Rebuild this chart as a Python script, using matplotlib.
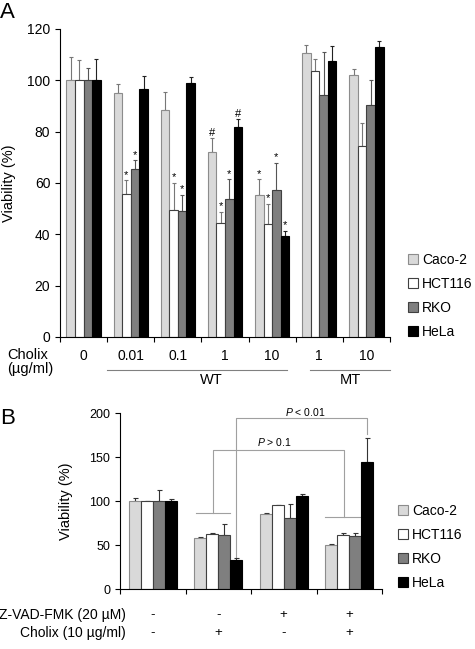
import numpy as np
import matplotlib
matplotlib.use("Agg")
import matplotlib.pyplot as plt  # noqa: E402
from matplotlib.patches import Patch  # noqa: E402
from matplotlib.transforms import blended_transform_factory  # noqa: E402

plt.rcParams["font.family"] = ["Liberation Sans", "DejaVu Sans"]
plt.rcParams["mathtext.fontset"] = "custom"
plt.rcParams["mathtext.it"] = "Liberation Sans:italic"
plt.rcParams["mathtext.rm"] = "Liberation Sans"

lines = ["Caco-2", "HCT116", "RKO", "HeLa"]
fills = ["#d9d9d9", "#ffffff", "#7f7f7f", "#000000"]
edges = ["#8c8c8c", "#404040", "#404040", "#000000"]

# --- panel A : Cholix dose series (WT 0..10, MT 1, 10)
dose_labels = ["0", "0.01", "0.1", "1", "10", "1", "10"]
caco_A = [100, 95.2, 88.3, 72.1, 55.2, 110.8, 102.0]
caco_A_err = [9.0, 3.2, 7.1, 5.3, 6.2, 2.8, 2.3]
hct_A = [100, 55.7, 49.3, 44.6, 43.9, 103.5, 74.3]
hct_A_err = [7.8, 5.3, 10.6, 4.0, 8.1, 4.9, 9.1]
rko_A = [100, 65.3, 49.1, 53.8, 57.3, 94.2, 90.4]
rko_A_err = [4.7, 3.5, 6.2, 7.6, 10.5, 16.7, 9.6]
hela_A = [100, 96.5, 98.8, 81.8, 39.3, 107.5, 112.9]
hela_A_err = [8.2, 5.3, 2.4, 3.0, 2.1, 5.7, 2.3]
# significance marks (group, line index, symbol)
marks_A = [(1, 1, "*"), (1, 2, "*"), (2, 1, "*"), (2, 2, "*"),
           (3, 0, "#"), (3, 1, "*"), (3, 2, "*"), (3, 3, "#"),
           (4, 0, "*"), (4, 1, "*"), (4, 2, "*"), (4, 3, "*")]

# --- panel B : Z-VAD-FMK rescue
zvad_row = ["-", "-", "+", "+"]
cholix_row = ["-", "+", "-", "+"]
caco_B = [100, 57.6, 84.9, 50.0]
caco_B_err = [3.8, 1.0, 2.0, 0.6]
hct_B = [100, 63.0, 95.5, 61.4]
hct_B_err = [0.5, 0.5, 0.3, 2.4]
rko_B = [100, 61.4, 80.6, 60.6]
rko_B_err = [12.5, 12.1, 15.7, 3.0]
hela_B = [100, 32.6, 105.7, 144.0]
hela_B_err = [2.0, 2.3, 1.9, 27.3]

W = 0.182


def draw_bars(ax, series, errs, ecol, capsize):
    n = len(series[0])
    x = np.arange(n)
    for j, (vals, err) in enumerate(zip(series, errs)):
        xs = x + (j - 1.5) * W
        ax.bar(xs, vals, W, color=fills[j], edgecolor=edges[j], lw=0.8, zorder=2)
        ax.errorbar(xs, vals, yerr=[np.zeros(n), err], fmt="none",
                    ecolor=ecol[j], elinewidth=0.8, capsize=capsize, capthick=0.8, zorder=1)
    ax.set_xlim(-0.5, n - 0.5)
    ax.set_xticks(np.arange(n + 1) - 0.5)
    ax.set_xticklabels([])
    for s in ["top", "right"]:
        ax.spines[s].set_visible(False)
    ax.tick_params(direction="out", length=3.5, width=0.8)


fig = plt.figure(figsize=(4.75, 6.49), dpi=100)

# ---------------- A
axA = fig.add_axes([60 / 475, 1 - 337 / 649, 330 / 475, 308 / 649])
seriesA = [caco_A, hct_A, rko_A, hela_A]
errsA = [caco_A_err, hct_A_err, rko_A_err, hela_A_err]
draw_bars(axA, seriesA, errsA, ["#777777", "#777777", "#555555", "#222222"], 1.5)
axA.set_ylim(0, 120)
axA.set_yticks(range(0, 121, 20))
axA.tick_params(axis="y", labelsize=10)
axA.set_ylabel("Viability (%)", fontsize=10.5)
axA.yaxis.set_label_coords(-0.133, 0.5)

for g, j, sym in marks_A:
    top = seriesA[j][g] + errsA[j][g]
    axA.annotate(sym, (g + (j - 1.5) * W, top), xytext=(0, 0.5), textcoords="offset points",
                 ha="center", va="bottom", fontsize=8)

trA = blended_transform_factory(axA.transData, axA.transAxes)
for i, lab in enumerate(dose_labels):
    axA.text(i, -0.062, lab, transform=trA, ha="center", va="center", fontsize=10)
axA.plot([0.49, 4.32], [-0.107, -0.107], transform=trA, color="#808080", lw=0.8, clip_on=False)
axA.plot([4.80, 6.5], [-0.107, -0.107], transform=trA, color="#808080", lw=0.8, clip_on=False)
axA.text(2.72, -0.14, "WT", transform=trA, ha="center", va="center", fontsize=10.5)
axA.text(5.67, -0.14, "MT", transform=trA, ha="center", va="center", fontsize=10.5)
fig.text(7 / 475, 1 - 355 / 649, "Cholix", ha="left", va="center", fontsize=10.5)
fig.text(7 / 475, 1 - 369 / 649, "(\u00b5g/ml)", ha="left", va="center", fontsize=10.5)
fig.text(0, 1 - 13 / 649, "A", ha="left", va="center", fontsize=16)

handles = [Patch(facecolor=fills[j], edgecolor=edges[j], lw=0.8) for j in range(4)]
fig.legend(handles, lines, loc="upper left", bbox_to_anchor=(408 / 475, 1 - 253 / 649),
           frameon=False, fontsize=10, handlelength=0.7, handleheight=0.7,
           handletextpad=0.3, labelspacing=0.72, borderpad=0, borderaxespad=0)

# ---------------- B
axB = fig.add_axes([120 / 475, 1 - 589 / 649, 262 / 475, 176 / 649])
seriesB = [caco_B, hct_B, rko_B, hela_B]
errsB = [caco_B_err, hct_B_err, rko_B_err, hela_B_err]
draw_bars(axB, seriesB, errsB, ["#333333"] * 4, 1.8)
axB.set_ylim(0, 200)
axB.set_yticks(range(0, 201, 50))
axB.tick_params(axis="y", labelsize=9)
axB.set_ylabel("Viability (%)", fontsize=10.5)
axB.yaxis.set_label_coords(-0.18, 0.5)

# comparison brackets
bc = dict(color="#a0a0a0", lw=0.8, clip_on=False, zorder=0)
axB.plot([1.275, 1.275, 3.275, 3.275], [36.7, 194.7, 194.7, 175.8], **bc)
axB.plot([0.656, 1.176], [86, 86], **bc)
axB.plot([2.637, 3.16], [82.2, 82.2], **bc)
axB.plot([0.92, 0.92, 2.92, 2.92], [86, 158, 158, 82.2], **bc)
axB.text(2.33, 201, r"$\it{P}$ < 0.01", ha="center", va="center", fontsize=7.5)
axB.text(1.86, 167.5, r"$\it{P}$ > 0.1", ha="center", va="center", fontsize=7.5)

trB = blended_transform_factory(axB.transData, axB.transAxes)
for i in range(4):
    axB.text(i, -0.148, zvad_row[i], transform=trB, ha="center", va="center", fontsize=9.5)
    axB.text(i, -0.248, cholix_row[i], transform=trB, ha="center", va="center", fontsize=9.5)
fig.text(126 / 475, 1 - 615 / 649, "Z-VAD-FMK (20 \u00b5M)", ha="right", va="center", fontsize=10)
fig.text(126 / 475, 1 - 633 / 649, "Cholix (10 \u00b5g/ml)", ha="right", va="center", fontsize=10)
fig.text(0, 1 - 418 / 649, "B", ha="left", va="center", fontsize=16)

fig.legend(handles, lines, loc="upper left", bbox_to_anchor=(398 / 475, 1 - 504 / 649),
           frameon=False, fontsize=10, handlelength=0.7, handleheight=0.7,
           handletextpad=0.3, labelspacing=0.72, borderpad=0, borderaxespad=0)

fig.savefig("out.png", dpi=100)
